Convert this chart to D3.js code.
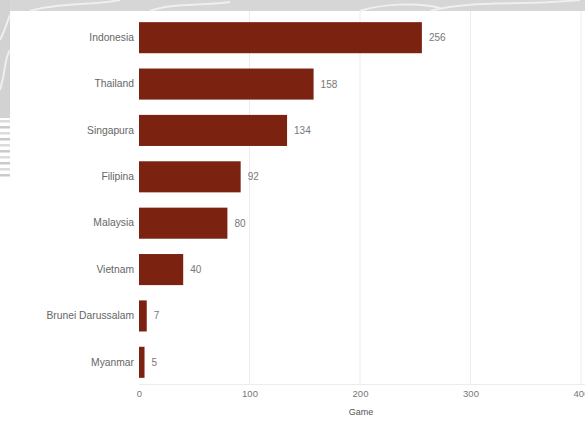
<!DOCTYPE html>
<html>
<head>
<meta charset="utf-8">
<script src="https://cdn.jsdelivr.net/npm/d3@7"></script>
<style>
  html, body { margin: 0; padding: 0; background: #ffffff; }
  svg { display: block; }
  text { font-family: "Liberation Sans", Arial, sans-serif; }
</style>
</head>
<body>
<svg id="chart" width="585" height="421"></svg>
<script>
const categories = ["Indonesia", "Thailand", "Singapura", "Filipina", "Malaysia", "Vietnam", "Brunei Darussalam", "Myanmar"];
const values = [256, 158, 134, 92, 80, 40, 7, 5];
const xTicks = [0, 100, 200, 300, 400];
const xTitle = "Game";

const W = 585, H = 421;
const svg = d3.select("#chart");

// decorative background outside the white panel
const bg = svg.append("g");
bg.append("rect").attr("x", 0).attr("y", 0).attr("width", W).attr("height", 11).attr("fill", "#d6d6d6");
bg.append("rect").attr("x", 0).attr("y", 0).attr("width", 10).attr("height", 118).attr("fill", "#d2d2d2");
[120, 126, 132, 138, 144, 150, 156, 162, 168, 174].forEach((yy, i) => {
  bg.append("rect").attr("x", 0).attr("y", yy).attr("width", 10).attr("height", 2.5)
    .attr("fill", i % 2 ? "#cacaca" : "#dcdcdc");
});
const swirl = [
  "M30,11 C60,2 90,6 120,0", "M360,11 C380,4 420,2 440,8", "M150,11 C170,3 200,6 230,2",
  "M430,11 C470,0 520,6 580,0", "M0,40 C5,30 8,20 10,15", "M0,90 C6,70 4,60 10,50"
];
swirl.forEach(d => bg.append("path").attr("d", d).attr("fill", "none").attr("stroke", "#efefef").attr("stroke-width", 2));

const x = d3.scaleLinear().domain([0, 400]).range([139, 581]);
const y = d3.scaleBand().domain(categories).range([14.5, 385.5]).paddingInner(0.33).paddingOuter(0.165);

// gridlines
svg.append("g").selectAll("line").data(xTicks.filter(t => t > 0)).join("line")
  .attr("x1", d => x(d)).attr("x2", d => x(d))
  .attr("y1", 11).attr("y2", 384)
  .attr("stroke", "#ececec").attr("stroke-width", 1);
svg.append("line").attr("x1", 139).attr("x2", W).attr("y1", 384.5).attr("y2", 384.5)
  .attr("stroke", "#ececec").attr("stroke-width", 1);

// bars
svg.append("g").selectAll("rect").data(categories).join("rect")
  .attr("x", x(0))
  .attr("y", d => y(d))
  .attr("width", (d, i) => x(values[i]) - x(0))
  .attr("height", y.bandwidth())
  .attr("fill", "#7b2211");

// value labels
svg.append("g").selectAll("text").data(categories).join("text")
  .attr("x", (d, i) => x(values[i]) + 7)
  .attr("y", d => y(d) + y.bandwidth() / 2)
  .attr("dy", "0.35em")
  .attr("font-size", 10)
  .attr("fill", "#777")
  .text((d, i) => values[i]);

// y axis labels
const yAxis = d3.axisLeft(y).tickSize(0).tickPadding(5);
const ya = svg.append("g").attr("transform", `translate(${x(0)},0)`).call(yAxis);
ya.select(".domain").remove();
ya.selectAll("text").attr("font-size", 10.3).attr("fill", "#666").attr("font-family", "Liberation Sans, Arial, sans-serif");

// x axis
const xAxis = d3.axisBottom(x).tickValues(xTicks).tickSize(0).tickPadding(6);
const xa = svg.append("g").attr("transform", "translate(0,384)").call(xAxis);
xa.select(".domain").remove();
xa.selectAll("text").attr("font-size", 9.5).attr("fill", "#777").attr("font-family", "Liberation Sans, Arial, sans-serif");

svg.append("text")
  .attr("x", (x(0) + x(400)) / 2 + 1)
  .attr("y", 415)
  .attr("text-anchor", "middle")
  .attr("font-size", 9)
  .attr("fill", "#555")
  .text(xTitle);
</script>
</body>
</html>
